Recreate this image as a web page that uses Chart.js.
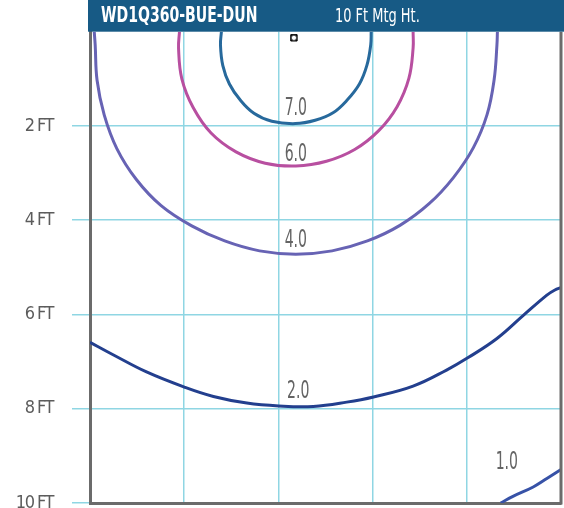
<!DOCTYPE html>
<html>
<head>
<meta charset="utf-8">
<script src="https://cdn.jsdelivr.net/npm/chart.js@4.4.1/dist/chart.umd.min.js"></script>
<style>
  html, body { margin: 0; padding: 0; background: #ffffff; overflow: hidden; }
  canvas { display: block; }
</style>
</head>
<body>
<canvas id="c" width="564" height="508" style="width:564px;height:508px"></canvas>
<script>
// ---- data (feet) ----
const titleText = 'WD1Q360-BUE-DUN';
const subtitleText = '10 Ft Mtg Ht.';
const yTickValues = [0, 2, 4, 6, 8, 10];
const levelNames = ['7.0', '6.0', '4.0', '2.0', '1.0'];
const levelColors = ['#27699c', '#b84fa0', '#6763b4', '#233f8e', '#3752a7'];

const c70x = [2.79, 2.77, 2.82, 2.96, 3.19, 3.48, 3.86, 4.36, 4.78, 5.16, 5.46, 5.72, 5.88, 5.96, 5.97];
const c70y = [0.00, 0.28, 0.72, 1.11, 1.45, 1.73, 1.90, 1.95, 1.88, 1.72, 1.45, 1.11, 0.71, 0.28, 0.00];

const c60x = [1.90, 1.88, 1.95, 2.19, 2.57, 3.10, 3.72, 4.37, 5.02, 5.62, 6.13, 6.52, 6.77, 6.86, 6.86];
const c60y = [0.00, 0.35, 1.00, 1.61, 2.15, 2.55, 2.79, 2.85, 2.75, 2.50, 2.10, 1.59, 0.99, 0.35, 0.00];

const c40x = [0.09, 0.11, 0.15, 0.30, 0.57, 0.98, 1.51, 2.16, 2.86, 3.60, 4.37, 5.14, 5.89, 6.58, 7.20, 7.72, 8.14, 8.43, 8.58, 8.64, 8.65];
const c40y = [0.00, 0.28, 1.03, 1.76, 2.48, 3.13, 3.69, 4.12, 4.44, 4.65, 4.72, 4.65, 4.44, 4.11, 3.65, 3.09, 2.46, 1.76, 1.02, 0.28, 0.00];

const c20x = [0.00, 0.50, 1.20, 2.00, 2.62, 3.33, 4.01, 4.74, 5.45, 6.02, 6.86, 7.57, 8.02, 8.64, 9.20, 9.70, 9.87, 10.00];
const c20y = [6.59, 6.86, 7.22, 7.54, 7.74, 7.88, 7.94, 7.95, 7.86, 7.75, 7.52, 7.18, 6.92, 6.51, 6.02, 5.59, 5.48, 5.43];

const c10x = [8.72, 8.98, 9.41, 9.70, 10.00];
const c10y = [10.00, 9.86, 9.66, 9.48, 9.29];

const labelX = [4.37, 4.37, 4.37, 4.42, 8.85];
const labelY = [1.63, 2.61, 4.43, 7.65, 9.14];

const luminaireX = [4.33];
const luminaireY = [0.13];

// ---- build ----
const contourXs = [c70x, c60x, c40x, c20x, c10x];
const contourYs = [c70y, c60y, c40y, c20y, c10y];
const toPts = (xs, ys) => xs.map((x, i) => ({ x: x, y: ys[i] }));

const datasets = contourXs.map((xs, i) => ({
  label: levelNames[i],
  data: toPts(xs, contourYs[i]),
  borderColor: levelColors[i],
  borderWidth: 3,
  pointRadius: 0,
  tension: 0.4,
  fill: false,
  order: 0
}));
datasets.push({
  label: 'luminaire',
  data: toPts(luminaireX, luminaireY),
  showLine: false,
  pointStyle: 'rect',
  pointRadius: 4.5,
  pointBackgroundColor: '#1a1a1a',
  pointBorderColor: '#000',
  pointBorderWidth: 1,
  clip: false,
  order: -1
});
datasets.push({
  label: 'luminaire-inner',
  data: toPts(luminaireX, luminaireY),
  showLine: false,
  pointStyle: 'circle',
  pointRadius: 2.6,
  pointBackgroundColor: '#ffffff',
  pointBorderColor: '#333',
  pointBorderWidth: 0.8,
  clip: false,
  order: -2
});

const FONT = "'DejaVu Sans Condensed', 'DejaVu Sans', sans-serif";

function squeezedText(ctx, text, x, y, sx) {
  ctx.save();
  ctx.translate(x, y);
  ctx.scale(sx, 1);
  ctx.fillText(text, 0, 0);
  ctx.restore();
}

const decor = {
  id: 'decor',
  beforeDraw(chart) {
    chart.ctx.letterSpacing = '-1.5px';
  },
  afterDatasetsDraw(chart) {
    const ctx = chart.ctx;
    const xs = chart.scales.x, ys = chart.scales.y;
    ctx.save();
    ctx.letterSpacing = '0px';
    ctx.fillStyle = '#646464';
    ctx.font = '24px ' + FONT;
    ctx.textAlign = 'center';
    ctx.textBaseline = 'middle';
    levelNames.forEach((t, i) => {
      squeezedText(ctx, t, xs.getPixelForValue(labelX[i]), ys.getPixelForValue(labelY[i]), 0.65);
    });
    ctx.restore();
  },
  afterDraw(chart) {
    const ctx = chart.ctx;
    const a = chart.chartArea;
    ctx.save();
    ctx.letterSpacing = '0px';
    ctx.strokeStyle = '#6b6b6b';
    ctx.lineWidth = 3;
    ctx.beginPath();
    ctx.moveTo(a.right, a.top);
    ctx.lineTo(a.right, a.bottom + 1.5);
    ctx.stroke();
    ctx.fillStyle = '#175a85';
    ctx.fillRect(a.left - 2, 0, chart.width - (a.left - 2), a.top);
    ctx.fillStyle = '#ffffff';
    ctx.textBaseline = 'middle';
    ctx.textAlign = 'left';
    ctx.font = 'bold 22px ' + FONT;
    squeezedText(ctx, titleText, 101, a.top / 2 + 0.5, 0.71);
    ctx.font = '20px ' + FONT;
    squeezedText(ctx, subtitleText, 335, a.top / 2 + 0.5, 0.72);
    ctx.restore();
    ctx.letterSpacing = '0px';
  }
};

new Chart(document.getElementById('c'), {
  type: 'line',
  data: { datasets: datasets },
  plugins: [decor],
  options: {
    responsive: false,
    maintainAspectRatio: false,
    animation: false,
    devicePixelRatio: 1,
    layout: { autoPadding: false, padding: { top: 31.7, right: 3, bottom: 0, left: 0 } },
    plugins: { legend: { display: false }, tooltip: { enabled: false }, title: { display: false } },
    scales: {
      x: {
        type: 'linear', min: 0, max: 10,
        ticks: { stepSize: 2, display: false },
        grid: { color: '#8fd6e3', lineWidth: 1.5, drawTicks: false },
        border: { display: true, color: '#6b6b6b', width: 3 },
        afterFit(s) { s.height = 5; s.paddingLeft = 0; s.paddingRight = 0; }
      },
      y: {
        type: 'linear', min: 0, max: 10, reverse: true,
        afterBuildTicks(s) { s.ticks = yTickValues.map(v => ({ value: v })); },
        ticks: {
          color: '#5c5c5c',
          padding: 19,
          font: { family: FONT, size: 18 },
          callback: (v) => (v === 0 ? '' : v + ' FT')
        },
        grid: {
          color: (c) => (c.tick && c.tick.value === 0 ? 'rgba(0,0,0,0)' : '#8fd6e3'),
          lineWidth: 1.5, drawTicks: true, tickLength: 18
        },
        border: { display: true, color: '#6b6b6b', width: 3 },
        afterFit(s) { s.width = 90; s.paddingTop = 0; s.paddingBottom = 0; }
      }
    }
  }
});
</script>
</body>
</html>
